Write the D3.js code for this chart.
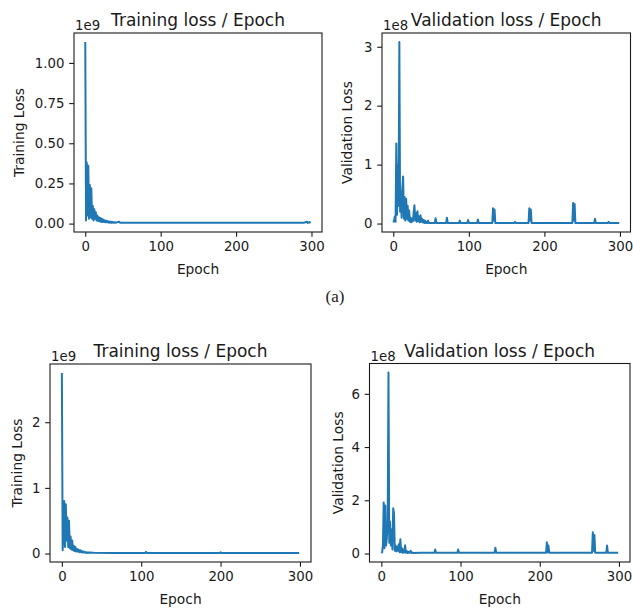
<!DOCTYPE html>
<html><head><meta charset="utf-8">
<script src="https://cdn.jsdelivr.net/npm/d3@7"></script>
<style>
body{margin:0;background:#fff}
svg{display:block}
text{font-family:"DejaVu Sans",sans-serif;fill:#1a1a1a}
</style>
</head><body>
<svg id="chart" width="633" height="608"></svg>
<script>
// ---------- DATA ----------
const xTicks = [0, 100, 200, 300];
const epochMax = 299;

// (a) Training loss, values in units of 1e9
const trainA_epochs = [0,1,2,3,4,5,6,7,8,9,10,11,12,13,14,15,16,17,18,19,20,21,22,23,24,25,26,27,28,29,30,31,32,33,34,35,36,37,38,39,40,
  41,45,46,60,100,150,200,250,290,294,295,297,299];
const trainA_loss = [1.13,0.02,0.38,0.05,0.36,0.03,0.24,0.04,0.22,0.03,0.11,0.02,0.09,0.03,0.07,0.02,0.05,0.015,0.04,0.015,0.035,0.01,0.03,0.01,0.025,0.01,0.02,0.008,0.018,0.008,0.015,0.006,0.012,0.006,0.012,0.005,0.01,0.005,0.009,0.005,0.008,
  0.006,0.012,0.005,0.006,0.005,0.005,0.005,0.005,0.005,0.012,0.004,0.01,0.004];
const trainA_yTicks = [0, 0.25, 0.5, 0.75, 1.0];

// (a) Validation loss, values in units of 1e8
const valA_epochs = [0,1,2,3,4,5,6,7,8,9,10,11,12,13,14,15,16,17,18,19,20,21,22,23,24,25,26,27,28,29,30,31,32,33,34,35,36,37,38,39,40,41,42,43,44,45,46,
  47,55,56,57,70,71,72,87,88,89,98,99,100,111,112,113,131,132,133,134,135,160,161,162,179,180,181,182,183,237,238,239,240,241,266,267,268,284,285,286,299];
const valA_loss = [0.02,0.05,0.12,0.03,1.36,0.15,1.0,0.3,3.08,0.2,0.55,0.1,0.6,0.8,0.08,0.45,0.05,0.42,0.08,0.3,0.05,0.22,0.03,0.1,0.02,0.08,0.04,0.2,0.31,0.05,0.18,0.03,0.21,0.04,0.12,0.02,0.14,0.03,0.08,0.02,0.06,0.01,0.05,0.01,0.03,0.01,0.05,
  0.01,0.01,0.09,0.01,0.01,0.1,0.01,0.01,0.05,0.01,0.01,0.06,0.01,0.01,0.07,0.01,0.01,0.26,0.05,0.24,0.01,0.01,0.03,0.01,0.01,0.26,0.05,0.24,0.01,0.01,0.35,0.05,0.33,0.01,0.01,0.08,0.01,0.01,0.03,0.01,0.01];
const valA_yTicks = [0, 1, 2, 3];

// (b) Training loss, values in units of 1e9
const trainB_epochs = [0,1,2,3,4,5,6,7,8,9,10,11,12,13,14,15,16,17,18,19,20,21,22,23,24,25,26,27,28,29,30,31,32,33,34,35,
  40,60,80,105,106,107,150,199,200,201,250,299];
const trainB_loss = [2.75,0.05,0.3,0.8,0.1,0.75,0.2,0.55,0.1,0.5,0.08,0.26,0.06,0.2,0.05,0.12,0.04,0.1,0.03,0.07,0.03,0.06,0.02,0.05,0.02,0.04,0.015,0.03,0.015,0.025,0.012,0.02,0.01,0.018,0.01,0.015,
  0.01,0.008,0.008,0.008,0.025,0.008,0.008,0.008,0.02,0.008,0.008,0.008];
const trainB_yTicks = [0, 1, 2];

// (b) Validation loss, values in units of 1e8
const valB_epochs = [0,1,2,3,4,5,6,7,8,9,10,11,12,13,14,15,16,17,18,19,20,21,22,23,24,25,26,27,28,29,30,31,32,33,34,35,36,37,38,39,40,
  50,67,68,69,96,97,98,143,144,145,208,209,210,211,212,266,267,268,269,270,284,285,286,299];
const valB_loss = [0.02,0.05,0.3,1.92,0.2,1.8,0.3,0.6,1.1,6.8,0.4,1.2,0.3,0.9,0.15,1.7,1.5,0.1,0.3,0.08,0.25,0.1,0.35,0.05,0.54,0.05,0.2,0.03,0.15,0.04,0.31,0.03,0.1,0.02,0.06,0.02,0.05,0.1,0.02,0.04,0.02,
  0.03,0.03,0.15,0.03,0.03,0.15,0.03,0.03,0.22,0.03,0.03,0.42,0.05,0.3,0.03,0.03,0.8,0.1,0.7,0.03,0.03,0.3,0.03,0.03];
const valB_yTicks = [0, 2, 4, 6];

const titles = ["Training loss / Epoch", "Validation loss / Epoch"];
const yLabels = ["Training Loss", "Validation Loss"];
const xLabel = "Epoch";
const offsets = ["1e9", "1e8"];
const subLabels = ["(a)"];

// ---------- LAYOUT ----------
const panels = [
  {ep: trainA_epochs, v: trainA_loss, yt: trainA_yTicks, fmt: d3.format(".2f"), title: titles[0], ylab: yLabels[0], off: offsets[0],
   left: 74, right: 322, top: 33, bottom: 232, ylabX: 23.5},
  {ep: valA_epochs, v: valA_loss, yt: valA_yTicks, fmt: d3.format("d"), title: titles[1], ylab: yLabels[1], off: offsets[1],
   left: 382, right: 630.5, top: 33, bottom: 232, ylabX: 352},
  {ep: trainB_epochs, v: trainB_loss, yt: trainB_yTicks, fmt: d3.format("d"), title: titles[0], ylab: yLabels[0], off: offsets[0],
   left: 50, right: 311, top: 364, bottom: 562, ylabX: 22},
  {ep: valB_epochs, v: valB_loss, yt: valB_yTicks, fmt: d3.format("d"), title: titles[1], ylab: yLabels[1], off: offsets[1],
   left: 369.5, right: 630, top: 363.5, bottom: 562, ylabX: 342.5}
];

const svg = d3.select("#chart");
const FS = 13.3, LFS = 13.8, TFS = 17, TICK = 4.8, PAD = 4.8;
const color = "#1f77b4";

panels.forEach(p => {
  const span = epochMax - 0;
  const x = d3.scaleLinear().domain([0 - 0.05 * span, epochMax + 0.05 * span]).range([p.left, p.right]);
  const ymin = d3.min(p.v), ymax = d3.max(p.v), yr = ymax - ymin;
  const y = d3.scaleLinear().domain([ymin - 0.05 * yr, ymax + 0.05 * yr]).range([p.bottom, p.top]);
  const g = svg.append("g");

  const pts = p.ep.map((e, i) => [e, p.v[i]]);
  g.append("path").datum(pts)
    .attr("fill", "none").attr("stroke", color).attr("stroke-width", 2)
    .attr("stroke-linejoin", "round").attr("stroke-linecap", "butt")
    .attr("d", d3.line().x(d => x(d[0])).y(d => y(d[1])));

  const xa = g.append("g").attr("transform", `translate(0,${p.bottom})`)
    .call(d3.axisBottom(x).tickValues(xTicks).tickFormat(d3.format("d")).tickSize(TICK).tickPadding(PAD).tickSizeOuter(0));
  const ya = g.append("g").attr("transform", `translate(${p.left},0)`)
    .call(d3.axisLeft(y).tickValues(p.yt).tickFormat(p.fmt).tickSize(TICK).tickPadding(PAD).tickSizeOuter(0));
  [xa, ya].forEach(a => {
    a.attr("font-family", null).attr("font-size", null);
    a.select(".domain").remove();
    a.selectAll(".tick line").attr("stroke", "#1a1a1a").attr("stroke-width", 1.1);
    a.selectAll(".tick text").attr("font-size", FS).attr("fill", "#1a1a1a");
  });

  g.append("rect").attr("x", p.left).attr("y", p.top)
    .attr("width", p.right - p.left).attr("height", p.bottom - p.top)
    .attr("fill", "none").attr("stroke", "#1a1a1a").attr("stroke-width", 1.1);

  g.append("text").attr("x", (p.left + p.right) / 2).attr("y", p.top - 7)
    .attr("text-anchor", "middle").attr("font-size", TFS).text(p.title);
  g.append("text").attr("x", p.left + 1).attr("y", p.top - 3)
    .attr("font-size", FS).text(p.off);
  g.append("text").attr("x", (p.left + p.right) / 2).attr("y", p.bottom + 42)
    .attr("text-anchor", "middle").attr("font-size", LFS).text(xLabel);
  g.append("text").attr("transform", `translate(${p.ylabX},${(p.top + p.bottom) / 2}) rotate(-90)`)
    .attr("text-anchor", "middle").attr("font-size", LFS).text(p.ylab);
});

svg.append("text").attr("x", 335).attr("y", 302).attr("text-anchor", "middle")
  .style("font-family", "'Liberation Serif','Times New Roman',serif").attr("font-size", 17).text(subLabels[0]);
</script>
</body></html>
